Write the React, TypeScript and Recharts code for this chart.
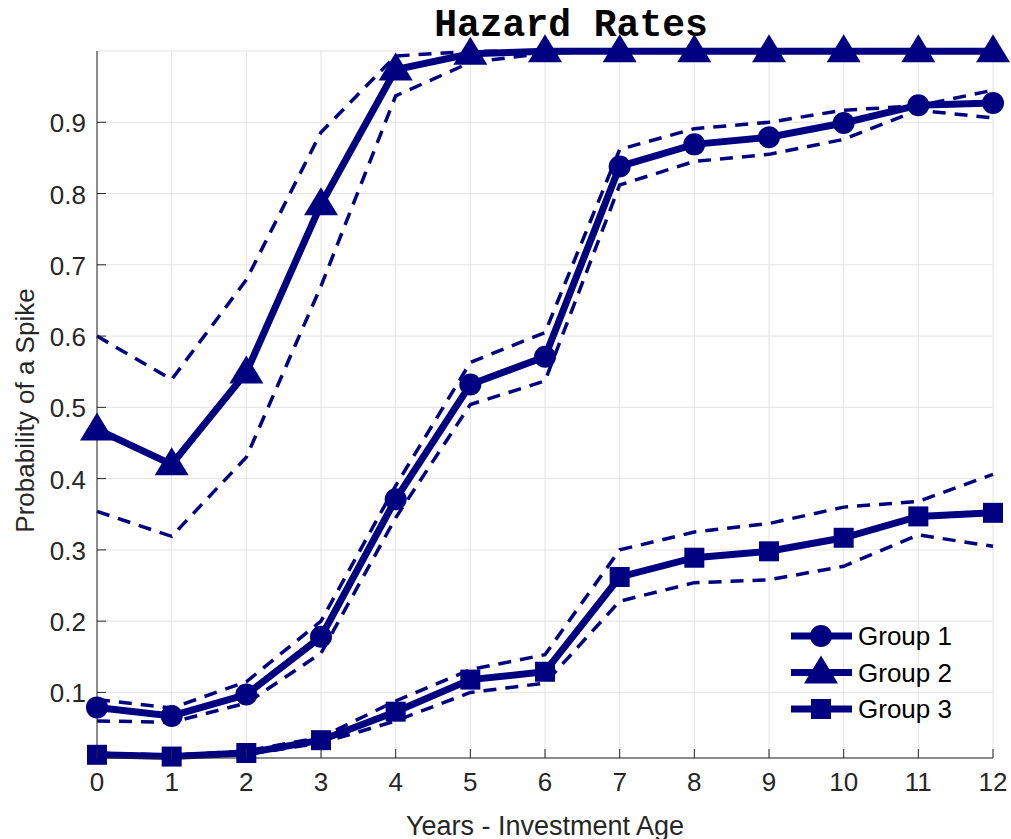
import {
  LineChart,
  Line,
  XAxis,
  YAxis,
  CartesianGrid,
  Legend,
} from "recharts";

const years = [0, 1, 2, 3, 4, 5, 6, 7, 8, 9, 10, 11, 12];

const group1 = [0.079, 0.067, 0.097, 0.178, 0.371, 0.532, 0.571, 0.838, 0.869, 0.879, 0.899, 0.924, 0.927];
const group1Hi = [0.09, 0.078, 0.115, 0.2, 0.39, 0.563, 0.605, 0.862, 0.891, 0.9, 0.917, 0.923, 0.945];
const group1Lo = [0.06, 0.058, 0.085, 0.155, 0.345, 0.504, 0.537, 0.812, 0.845, 0.855, 0.876, 0.917, 0.906];

const group2 = [0.469, 0.42, 0.549, 0.785, 0.974, 0.996, 0.9995, 0.9995, 0.9995, 0.9995, 0.9995, 0.9995, 0.9995];
const group2Hi = [0.6, 0.539, 0.679, 0.886, 0.993, 0.9995, 0.9995, 0.9995, 0.9995, 0.9995, 0.9995, 0.9995, 0.9995];
const group2Lo = [0.354, 0.319, 0.43, 0.67, 0.937, 0.984, 0.997, 0.9995, 0.9995, 0.9995, 0.9995, 0.9995, 0.9995];

const group3 = [0.0125, 0.01, 0.015, 0.033, 0.073, 0.118, 0.129, 0.262, 0.289, 0.298, 0.317, 0.347, 0.352];
const group3Hi = [0.015, 0.012, 0.018, 0.037, 0.088, 0.132, 0.153, 0.3, 0.325, 0.337, 0.36, 0.368, 0.406];
const group3Lo = [0.011, 0.009, 0.013, 0.029, 0.06, 0.1, 0.113, 0.228, 0.254, 0.258, 0.277, 0.321, 0.305];

const yTicks = [0.1, 0.2, 0.3, 0.4, 0.5, 0.6, 0.7, 0.8, 0.9];
const legendNames = ["Group 1", "Group 2", "Group 3"];

const data = years.map((yr, i) => ({
  year: yr,
  g1: group1[i],
  g1Hi: group1Hi[i],
  g1Lo: group1Lo[i],
  g2: group2[i],
  g2Hi: group2Hi[i],
  g2Lo: group2Lo[i],
  g3: group3[i],
  g3Hi: group3Hi[i],
  g3Lo: group3Lo[i],
}));

const NAVY = "#000080";
const AXIS = "#262626";
const FONT = "'Liberation Sans', Arial, Helvetica, sans-serif";

function Marker({ kind, cx, cy }: { kind: string; cx: number; cy: number }) {
  if (kind === "circle") return <circle cx={cx} cy={cy} r={11} fill={NAVY} />;
  if (kind === "triangle")
    return (
      <path
        d={`M${cx},${cy - 17} L${cx - 17},${cy + 11} L${cx + 17},${cy + 11} Z`}
        fill={NAVY}
      />
    );
  return <rect x={cx - 10} y={cy - 10} width={20} height={20} fill={NAVY} />;
}

const dotOf = (kind: string) => (p: any) => {
  if (p.cx == null || p.cy == null) return <g key={p.index} />;
  return <Marker key={`${kind}-${p.index}`} kind={kind} cx={p.cx} cy={p.cy} />;
};

const xTick = (p: any) => (
  <g>
    <line x1={p.x} x2={p.x} y1={p.y} y2={p.y - 9} stroke={AXIS} />
    <text x={p.x} y={p.y + 33} textAnchor="middle" fontSize={26} fill={AXIS} fontFamily={FONT}>
      {p.payload.value}
    </text>
  </g>
);

const yTick = (p: any) => (
  <g>
    <line x1={p.x} x2={p.x + 9} y1={p.y} y2={p.y} stroke={AXIS} />
    <text x={p.x - 11} y={p.y + 10} textAnchor="end" fontSize={26} fill={AXIS} fontFamily={FONT}>
      {p.payload.value.toFixed(1)}
    </text>
  </g>
);

const topTick = (p: any) => (
  <line x1={p.x} x2={p.x} y1={p.y} y2={p.y + 9} stroke={AXIS} />
);

const rightTick = (p: any) => (
  <line x1={p.x} x2={p.x - 9} y1={p.y} y2={p.y} stroke={AXIS} />
);

const xLabel = (p: any) => {
  const vb = p.viewBox;
  return (
    <text x={vb.x + vb.width / 2} y={vb.y + 77} textAnchor="middle" fontSize={27} fill={AXIS} fontFamily={FONT}>
      Years - Investment Age
    </text>
  );
};

const yLabel = (p: any) => {
  const vb = p.viewBox;
  const cx = 25;
  const cy = vb.y + vb.height / 2 + 6;
  return (
    <text
      x={cx}
      y={cy}
      transform={`rotate(-90 ${cx} ${cy})`}
      textAnchor="middle"
      dominantBaseline="central"
      fontSize={26}
      fill={AXIS}
      fontFamily={FONT}
    >
      Probability of a Spike
    </text>
  );
};

function LegendBox() {
  const kinds = ["circle", "triangle", "square"];
  return (
    <svg width={210} height={110}>
      {legendNames.map((name, i) => {
        const y = 17 + i * 36.5;
        return (
          <g key={name}>
            <line x1={6} x2={67} y1={y} y2={y} stroke={NAVY} strokeWidth={7} />
            <Marker kind={kinds[i]} cx={36} cy={y} />
            <text x={73} y={y + 9} fontSize={26} fill="#000" fontFamily={FONT}>
              {name}
            </text>
          </g>
        );
      })}
    </svg>
  );
}

export default function App() {
  return (
    <div style={{ position: "absolute", left: 0, top: 0, background: "#fff" }}>
      <div
        style={{
          position: "absolute",
          left: 0,
          width: 1142,
          top: 6,
          textAlign: "center",
          fontFamily: "'Liberation Mono', 'Courier New', monospace",
          fontWeight: "bold",
          fontSize: 38,
          lineHeight: "40px",
          color: "#000",
          zIndex: 2,
        }}
      >
        Hazard Rates
      </div>
      <LineChart
        width={1011}
        height={839}
        data={data}
        margin={{ top: 51, right: 18, bottom: 0, left: 0 }}
      >
        <CartesianGrid stroke="#e3e3e3" strokeWidth={1} />
        <XAxis
          dataKey="year"
          type="number"
          domain={[0, 12]}
          ticks={years}
          height={81}
          stroke={AXIS}
          tickLine={false}
          tickSize={0}
          tickMargin={0}
          tick={xTick}
          label={xLabel}
        />
        <XAxis
          xAxisId="top"
          orientation="top"
          dataKey="year"
          type="number"
          domain={[0, 12]}
          ticks={years}
          height={0}
          stroke={AXIS}
          tickLine={false}
          tickSize={0}
          tickMargin={0}
          tick={topTick}
        />
        <YAxis
          type="number"
          domain={[0.008, 1.0]}
          ticks={yTicks}
          width={97}
          stroke={AXIS}
          tickLine={false}
          tickSize={0}
          tickMargin={0}
          tick={yTick}
          label={yLabel}
        />
        <YAxis
          yAxisId="right"
          orientation="right"
          type="number"
          domain={[0.008, 1.0]}
          ticks={yTicks}
          width={0}
          stroke={AXIS}
          tickLine={false}
          tickSize={0}
          tickMargin={0}
          tick={rightTick}
        />
        <Line dataKey="g1" stroke={NAVY} strokeWidth={7} dot={dotOf("circle")} activeDot={false} isAnimationActive={false} />
        <Line dataKey="g2" stroke={NAVY} strokeWidth={7} dot={dotOf("triangle")} activeDot={false} isAnimationActive={false} />
        <Line dataKey="g3" stroke={NAVY} strokeWidth={7} dot={dotOf("square")} activeDot={false} isAnimationActive={false} />
        <Line dataKey="g1Hi" stroke={NAVY} strokeWidth={3.5} strokeDasharray="13 9" dot={false} activeDot={false} legendType="none" isAnimationActive={false} />
        <Line dataKey="g1Lo" stroke={NAVY} strokeWidth={3.5} strokeDasharray="13 9" dot={false} activeDot={false} legendType="none" isAnimationActive={false} />
        <Line dataKey="g2Hi" stroke={NAVY} strokeWidth={3.5} strokeDasharray="13 9" dot={false} activeDot={false} legendType="none" isAnimationActive={false} />
        <Line dataKey="g2Lo" stroke={NAVY} strokeWidth={3.5} strokeDasharray="13 9" dot={false} activeDot={false} legendType="none" isAnimationActive={false} />
        <Line dataKey="g3Hi" stroke={NAVY} strokeWidth={3.5} strokeDasharray="13 9" dot={false} activeDot={false} legendType="none" isAnimationActive={false} />
        <Line dataKey="g3Lo" stroke={NAVY} strokeWidth={3.5} strokeDasharray="13 9" dot={false} activeDot={false} legendType="none" isAnimationActive={false} />
        <Legend
          layout="horizontal"
          verticalAlign="middle"
          align="center"
          content={() => <LegendBox />}
          wrapperStyle={{ position: "absolute", left: 785, top: 619, width: 210 }}
        />
      </LineChart>
    </div>
  );
}
